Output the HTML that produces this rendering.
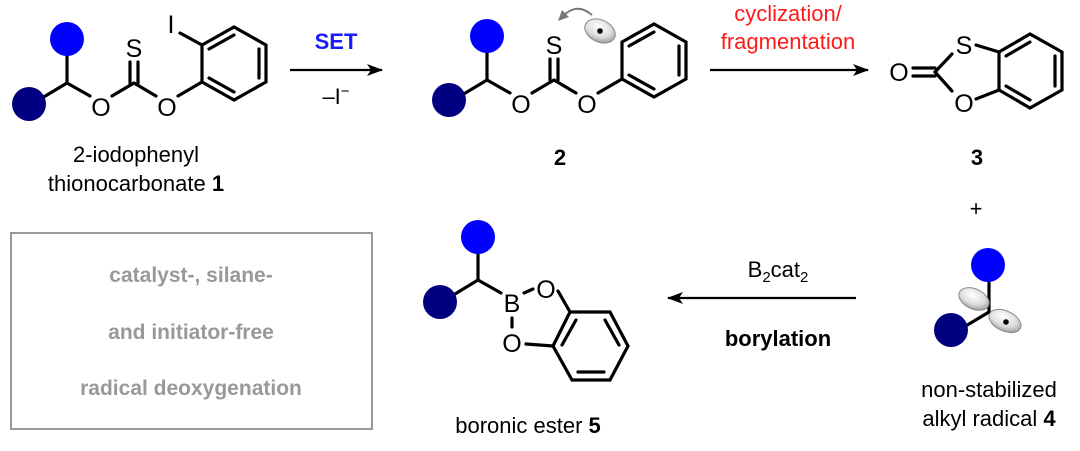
<!DOCTYPE html>
<html><head><meta charset="utf-8"><style>
body{margin:0;background:#fff;}
svg{display:block;font-family:"Liberation Sans",sans-serif;}
</style></head><body>
<svg width="1080" height="451" viewBox="0 0 1080 451" xmlns="http://www.w3.org/2000/svg">
<defs>
<radialGradient id="lob" cx="40%" cy="35%" r="70%"><stop offset="0" stop-color="#fff"/><stop offset="0.6" stop-color="#ddd"/><stop offset="1" stop-color="#999"/></radialGradient>
<marker id="ah" markerWidth="16" markerHeight="12" refX="15" refY="6" orient="auto" markerUnits="userSpaceOnUse"><path d="M0,0 L16,6 L0,12 L4,6Z" fill="#000"/></marker>
</defs>
<g stroke="#000" stroke-width="3.2" fill="none" stroke-linecap="round">
<!-- molecule 1 -->
<line x1="67" y1="55" x2="67" y2="83"/><line x1="67" y1="83" x2="42" y2="98"/><line x1="67" y1="83" x2="90" y2="96"/>
<line x1="112" y1="96" x2="134" y2="83"/><line x1="134" y1="83" x2="156" y2="96"/>
<line x1="130" y1="62" x2="130" y2="83"/><line x1="138" y1="62" x2="138" y2="83"/>
<line x1="178" y1="96" x2="202" y2="82"/>
<polygon points="202,82 202,45 234,27 266,45 266,82 234,100"/>
<line x1="209" y1="49" x2="234" y2="35"/><line x1="259" y1="49" x2="259" y2="78"/><line x1="209" y1="78" x2="234" y2="92"/>
<line x1="202" y1="45" x2="180" y2="33"/>
<!-- molecule 2 -->
<line x1="487" y1="52" x2="487" y2="80"/><line x1="487" y1="80" x2="462" y2="95"/><line x1="487" y1="80" x2="510" y2="93"/>
<line x1="532" y1="93" x2="554" y2="80"/><line x1="554" y1="80" x2="576" y2="93"/>
<line x1="550" y1="59" x2="550" y2="80"/><line x1="558" y1="59" x2="558" y2="80"/>
<line x1="598" y1="93" x2="622" y2="79"/>
<polygon points="622,79 622,42 654,24 686,42 686,79 654,97"/>
<line x1="629" y1="46" x2="654" y2="32"/><line x1="679" y1="46" x2="679" y2="75"/><line x1="629" y1="75" x2="654" y2="89"/>
<!-- molecule 3 -->
<line x1="913" y1="68" x2="935" y2="68"/><line x1="913" y1="76" x2="935" y2="76"/>
<line x1="935" y1="72" x2="952" y2="54"/><line x1="935" y1="72" x2="952" y2="91"/>
<line x1="976" y1="45" x2="999" y2="52"/><line x1="976" y1="99" x2="999" y2="90"/>
<polygon points="999,52 1030,34 1062,52 1062,90 1030,108 999,90"/>
<line x1="1006" y1="56" x2="1030" y2="42"/><line x1="1055" y1="56" x2="1055" y2="86"/><line x1="1006" y1="86" x2="1030" y2="100"/>
<!-- molecule 5 -->
<line x1="478" y1="252" x2="478" y2="280"/><line x1="478" y1="280" x2="455" y2="294"/><line x1="478" y1="280" x2="501" y2="293"/>
<line x1="524" y1="293" x2="533" y2="289"/><line x1="512" y1="318" x2="512" y2="327"/>
<line x1="558" y1="291" x2="570" y2="312"/><line x1="526" y1="344" x2="553" y2="346"/>
<polygon points="570,312 610,312 628,346 610,380 572,380 553,346"/>
<line x1="576" y1="320" x2="562" y2="345"/><line x1="605" y1="320" x2="619" y2="345"/><line x1="578" y1="372" x2="604" y2="372"/>
<!-- radical 4 -->
<line x1="989" y1="283" x2="989" y2="312"/><line x1="989" y1="312" x2="964" y2="327"/>
</g>
<!-- arrows -->
<g stroke="#000" stroke-width="2.2" fill="none">
<line x1="290" y1="70" x2="382" y2="70" marker-end="url(#ah)"/>
<line x1="710" y1="70" x2="868" y2="70" marker-end="url(#ah)"/>
<line x1="856" y1="298" x2="668" y2="298" marker-end="url(#ah)"/>
</g>
<!-- circles -->
<circle cx="67" cy="39" r="17" fill="#0000ff"/><circle cx="29" cy="104" r="17" fill="#000080"/>
<circle cx="487" cy="36" r="17" fill="#0000ff"/><circle cx="449" cy="100" r="17" fill="#000080"/>
<circle cx="478" cy="237" r="17" fill="#0000ff"/><circle cx="440" cy="302" r="17" fill="#000080"/>
<circle cx="988" cy="265" r="17" fill="#0000ff"/><circle cx="951" cy="330" r="17" fill="#000080"/>
<!-- orbitals -->
<ellipse cx="600" cy="31" rx="16" ry="11" transform="rotate(25 600 31)" fill="url(#lob)" stroke="#888"/>
<circle cx="600" cy="31" r="2.8" fill="#000"/>
<path d="M592,15 Q577,2 563,16" stroke="#777" stroke-width="2" fill="none"/>
<path d="M558,21 L562,10 L569,17Z" fill="#777"/>
<ellipse cx="974" cy="299" rx="16" ry="10" transform="rotate(25 974 299)" fill="url(#lob)" stroke="#888"/>
<ellipse cx="1005" cy="321" rx="17" ry="10" transform="rotate(25 1005 321)" fill="url(#lob)" stroke="#888"/>
<circle cx="1006" cy="322" r="2.8" fill="#000"/>
<!-- atom labels -->
<g font-size="25" text-anchor="middle">
<text x="101" y="116">O</text><text x="134" y="57">S</text><text x="167" y="116">O</text><text x="171" y="33">I</text>
<text x="521" y="113">O</text><text x="554" y="54">S</text><text x="587" y="113">O</text>
<text x="899" y="81">O</text><text x="964" y="54">S</text><text x="964" y="112">O</text>
<text x="512" y="312">B</text><text x="546" y="298">O</text><text x="512" y="352">O</text>
</g>
<!-- text labels -->
<g font-size="22" text-anchor="middle">
<text x="136" y="162">2-iodophenyl</text>
<text x="136" y="191">thionocarbonate <tspan font-weight="bold">1</tspan></text>
<text x="560" y="165" font-weight="bold">2</text>
<text x="977" y="165" font-weight="bold">3</text>
<text x="976" y="216">+</text>
<text x="336" y="49" fill="#1a1aff" font-weight="bold">SET</text>
<text x="336" y="104">–I<tspan dy="-8" font-size="15">−</tspan></text>
<text x="788" y="21" fill="#ff1a1a">cyclization/</text>
<text x="788" y="49" fill="#ff1a1a">fragmentation</text>
<text x="778" y="277">B<tspan dy="5" font-size="15">2</tspan><tspan dy="-5">cat</tspan><tspan dy="5" font-size="15">2</tspan></text>
<text x="778" y="346" font-weight="bold">borylation</text>
<text x="528" y="433">boronic ester <tspan font-weight="bold">5</tspan></text>
<text x="989" y="397">non-stabilized</text>
<text x="989" y="426">alkyl radical <tspan font-weight="bold">4</tspan></text>
</g>
<rect x="11" y="233" width="361" height="196" fill="none" stroke="#999" stroke-width="2"/>
<g font-size="21" text-anchor="middle" fill="#999" font-weight="bold">
<text x="191" y="282">catalyst-, silane-</text>
<text x="191" y="339">and initiator-free</text>
<text x="191" y="395">radical deoxygenation</text>
</g>
</svg>
</body></html>
